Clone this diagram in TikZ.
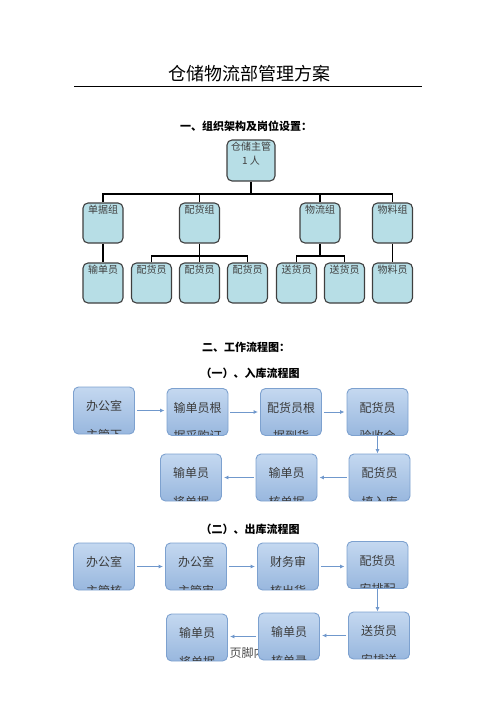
\documentclass[tikz,border=0pt]{standalone}
\usepackage{fontspec}
\setmainfont{Noto Sans CJK SC}
\usetikzlibrary{arrows.meta,positioning}

\definecolor{orgfill}{HTML}{B7DEE6}
\definecolor{orgedge}{HTML}{3F3F3F}
\definecolor{flowtop}{HTML}{C4D8F0}
\definecolor{flowbot}{HTML}{98B7DE}
\definecolor{flowedge}{HTML}{7DA1CF}
\definecolor{flowline}{HTML}{7098CC}
\definecolor{flowtext}{HTML}{3A3A3A}

\tikzset{
  orgtext/.style={anchor=north, inner sep=0pt, yshift=-2.5pt, align=center,
    font=\fontsize{10}{13.5}\selectfont, text=black!75},
  orgbox/.style={draw=orgedge, line width=1.1pt, fill=orgfill, rounded corners=5pt,
    minimum width=40pt, minimum height=40pt, inner sep=0pt,
    label={[orgtext]north:#1}},
  orgline/.style={line width=1.8pt, black},
  flowbox/.style={draw=flowedge, line width=0.9pt, top color=flowtop, bottom color=flowbot,
    rounded corners=5pt, minimum width=61pt, minimum height=47pt, inner sep=0pt,
    text height=10pt, text depth=10pt, text=flowtext, font=\fontsize{12}{12}\selectfont},
  flowsub/.style={anchor=base, inner sep=0pt, text=flowtext, font=\fontsize{12}{12}\selectfont},
  flowarrow/.style={draw=flowline, line width=0.9pt, shorten <=2pt, shorten >=2pt,
    -{Latex[length=4.5pt,width=4pt]}},
  heading/.style={font=\bfseries\fontsize{11}{11}\selectfont}
}

\begin{document}
\begin{tikzpicture}[x=1pt,y=1pt]
  \useasboundingbox (0,0) rectangle (496,-702);

  % title and rule
  \node[font=\fontsize{18}{18}\selectfont] (title) at (249,-74) {仓储物流部管理方案};
  \draw[line width=0.8pt] (74,-86) -- (422,-86);

  % headings
  \node[heading] (h1) at (246,-126) {一、组织架构及岗位设置：};
  \node[heading] (h2) at (246,-347) {二、工作流程图：};
  \node[heading] (h3) at (250,-373) {（一）、入库流程图};
  \node[heading] (h4) at (250,-529) {（二）、出库流程图};

  % org chart
  \node[orgbox={仓储主管\\1 人}, minimum width=48pt, minimum height=41pt] (boss) at (251,-160.5) {};
  \foreach \n/\px/\t in {dj/103/单据组, ph/199.5/配货组, wl/320/物流组, wlz/392.5/物料组} {
    \node[orgbox=\t] (\n) at (\px,-223) {};
  }
  \foreach \n/\px/\t in {sd/103/输单员, ph1/151.5/配货员, ph2/199.5/配货员, ph3/247.5/配货员,
                         sh1/296.5/送货员, sh2/344.5/送货员, wly/392.5/物料员} {
    \node[orgbox=\t] (\n) at (\px,-283) {};
  }

  % tree lines
  \coordinate (bus) at (251,-194);
  \coordinate (phbus) at (199.5,-256);
  \coordinate (wlbus) at (320,-256);
  \draw[orgline] (boss.south) -- (bus);
  \draw[orgline] (dj.north) |- (bus) -| (wlz.north);
  \draw[orgline] (ph.north) -- (ph.north |- bus);
  \draw[orgline] (wl.north) -- (wl.north |- bus);
  \draw[orgline] (dj.south) -- (sd.north);
  \draw[orgline] (ph.south) -- (ph2.north);
  \draw[orgline] (ph1.north) |- (phbus) -| (ph3.north);
  \draw[orgline] (wl.south) -- (wlbus);
  \draw[orgline] (sh1.north) |- (wlbus) -| (sh2.north);
  \draw[orgline] (wlz.south) -- (wly.north);

  % footer text, partly hidden by the boxes
  \node[anchor=west, font=\fontsize{12}{12}\selectfont, text=black!70] (foot) at (226,-653) {页脚内容};

  % flow boxes
  \foreach \n/\px/\py/\a/\b in {
      in1/104/-410.5/办公室/主管下, in2/197.5/-412/输单员根/据采购订,
      in3/291/-412/配货员根/据到货, in4/377.5/-412/配货员/验收合,
      in5/379.5/-477.5/配货员/填入库, in6/286.5/-477.5/输单员/核单据,
      in7/191/-477.5/输单员/将单据,
      out1/104/-566.5/办公室/主管核, out2/196/-566.5/办公室/主管审,
      out3/288/-566.5/财务审/核出货, out4/377.5/-565/配货员/安排配,
      out5/379/-635.5/送货员/安排送, out6/289/-636.5/输单员/核单录,
      out7/197/-637.5/输单员/将单据} {
    \node[flowbox] (\n) at (\px,\py) {\a};
    \begin{scope}
      \clip[rounded corners=4pt] ([shift={(1pt,1pt)}]\n.south west) rectangle ([shift={(-1pt,-1pt)}]\n.north east);
      \node[flowsub] at ([yshift=-5pt]\n.south) {\b};
    \end{scope}
  }

  % flow arrows
  \foreach \s/\e in {in1/in2, in2/in3, in3/in4, out1/out2, out2/out3, out3/out4} {
    \draw[flowarrow] (\s.east) -- (\s.east -| \e.west);
  }
  \foreach \s/\e in {in5/in6, in6/in7, out5/out6, out6/out7} {
    \draw[flowarrow] (\s.west) -- (\s.west -| \e.east);
  }
  \draw[flowarrow, shorten >=0pt, shorten <=0pt] (in4.south) -- (in4.south |- in5.north);
  \draw[flowarrow, shorten >=0pt, shorten <=0pt] (out4.south) -- (out4.south |- out5.north);

\end{tikzpicture}
\end{document}
